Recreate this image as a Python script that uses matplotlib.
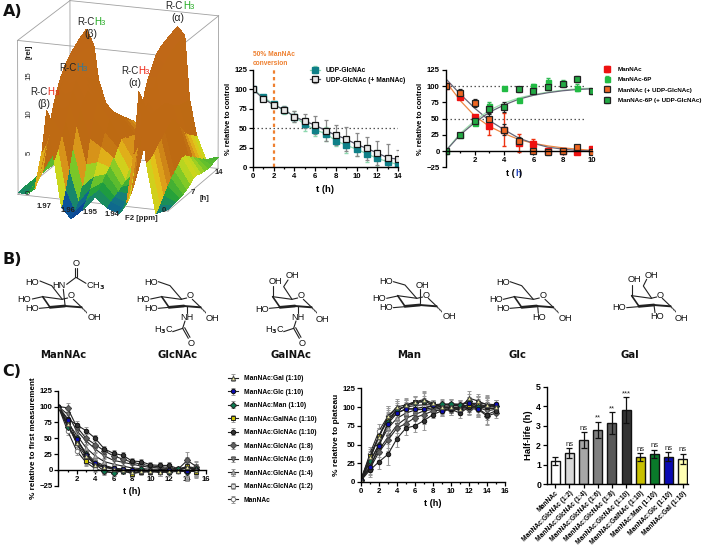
import numpy as np
import matplotlib
matplotlib.use('Agg')
import matplotlib.pyplot as plt
from matplotlib.colors import LinearSegmentedColormap, Normalize

W, H = 709, 548
plt.rcParams['font.family'] = ['Liberation Sans', 'DejaVu Sans']
plt.rcParams['font.weight'] = 'bold'
plt.rcParams['axes.labelweight'] = 'bold'

# --- panel A surface: signal (rel) per time row and ppm column
ppm = [1.982, 1.978, 1.975, 1.972, 1.970, 1.967, 1.964, 1.960, 1.955, 1.950,
       1.945, 1.940, 1.937, 1.934, 1.932, 1.929, 1.925, 1.920]
hours = list(range(15))
signal = [
    [0.2, 0.3, 1.0, 6.0, 11.3, 5.0, -1.0, -2.4, -1.0, 0.8, -0.5, -1.0, 0.5, 7.0, 15.0, 6.0, -0.5, 0.2],
    [0.3, 0.4, 2.0, 6.5, 9.8, 6.0, 0.8, -2.0, -0.2, 1.2, -0.2, -0.8, 2.0, 7.5, 13.5, 6.0, 0.2, 0.3],
    [0.3, 0.6, 3.5, 7.5, 9.0, 7.5, 3.0, -1.2, 0.8, 1.8, 0.1, -0.5, 4.5, 8.5, 12.0, 6.5, 1.0, 0.3],
    [0.3, 1.0, 5.5, 9.0, 9.2, 9.0, 5.5, 0.5, 2.0, 2.5, 0.4, 0.2, 7.5, 10.0, 11.0, 7.0, 1.8, 0.4],
    [0.3, 1.6, 7.8, 10.5, 10.0, 10.5, 8.0, 3.0, 3.5, 3.0, 0.6, 1.2, 10.5, 12.0, 11.0, 7.5, 2.5, 0.5],
    [0.3, 2.1, 9.8, 12.0, 11.5, 12.0, 10.0, 6.0, 5.0, 3.8, 1.0, 2.5, 13.0, 13.5, 11.0, 8.0, 3.0, 0.7],
    [0.3, 2.5, 11.5, 13.0, 12.5, 13.0, 11.0, 8.5, 6.5, 4.8, 2.0, 4.0, 14.5, 14.5, 11.0, 8.5, 3.5, 1.0],
    [0.3, 2.8, 12.8, 14.0, 13.0, 13.2, 11.5, 10.0, 8.0, 5.5, 3.0, 5.5, 15.5, 15.0, 11.0, 9.0, 4.0, 1.5],
    [0.3, 3.0, 13.8, 14.5, 13.0, 12.5, 10.5, 9.5, 8.0, 5.5, 3.5, 7.0, 16.5, 15.5, 10.5, 8.5, 4.0, 1.5],
    [0.2, 3.0, 14.5, 14.8, 12.5, 11.5, 9.5, 9.0, 7.5, 5.0, 3.5, 8.0, 17.0, 16.0, 10.0, 7.5, 3.5, 1.3],
    [0.2, 3.0, 15.0, 15.0, 12.0, 10.5, 8.5, 8.0, 7.0, 4.8, 4.0, 9.5, 17.3, 16.5, 9.5, 6.5, 3.0, 1.2],
    [0.2, 3.0, 15.5, 15.0, 11.5, 9.5, 7.5, 7.2, 6.5, 4.5, 4.5, 10.5, 17.5, 16.7, 9.2, 5.5, 2.5, 1.1],
    [0.2, 3.0, 15.9, 14.8, 11.0, 8.5, 7.0, 6.5, 6.0, 4.0, 5.0, 11.5, 17.7, 16.9, 9.0, 5.0, 2.0, 1.2],
    [0.2, 3.0, 16.2, 14.6, 10.5, 7.8, 6.5, 6.0, 5.5, 3.8, 5.5, 12.2, 17.9, 17.0, 8.9, 4.5, 1.5, 1.4],
    [0.2, 3.0, 16.5, 14.5, 10.0, 7.0, 6.0, 5.5, 5.0, 3.5, 6.0, 13.0, 18.0, 17.0, 8.8, 4.0, 1.0, 1.5],
]

# --- panel A, UDP-GlcNAc
t14 = list(range(15))
udp = [100, 90, 81, 73, 65, 55, 48, 43, 34, 28, 23, 17, 11, 7, 3]
udp_err = [0, 3, 3, 5, 7, 8, 8, 9, 7, 10, 9, 11, 11, 7, 5]
udp_man = [100, 88, 80, 74, 65, 59, 54, 47, 41, 36, 29, 24, 18, 12, 10]
udp_man_err = [0, 2, 2, 5, 7, 9, 12, 13, 13, 15, 15, 15, 16, 17, 12]

# --- panel A, ManNAc / ManNAc-6P
t10 = list(range(11))
mannac = [100, 84, 52, 39, 33, 12, 11, 0, 0, -1, 3]
mannac_err = [0, 3, 4, 14, 25, 14, 7, 4, 3, 3, 3]
m6p = [0, 25, 44, 70, 97, 78, 100, 107, 105, 98, 92]
m6p_err = [0, 3, 4, 6, 2, 3, 3, 6, 4, 5, 3]
mannac_udp = [100, 90, 74, 49, 33, 15, 0, -2, 0, 6, -2]
mannac_udp_err = [0, 5, 6, 8, 8, 6, 2, 4, 3, 4, 3]
m6p_udp = [0, 25, 46, 65, 68, 95, 92, 99, 103, 111, 93]
m6p_udp_err = [0, 3, 4, 7, 8, 4, 3, 5, 4, 4, 3]
mannac_fit = [108, 78, 54, 38, 27, 18, 12, 8, 5, 3, 1]
mannac_udp_fit = [112, 88, 66, 47, 33, 20, 12, 6, 3, 1, 0]
m6p_fit = [0, 27, 47, 63, 74, 82, 87, 91, 94, 96, 97]
m6p_udp_fit = [0, 25, 44, 60, 71, 80, 86, 90, 93, 95, 96]

# --- panel C, kinetics
t15 = list(range(16))
series_names = ['ManNAc', 'ManNAc:GlcNAc (1:2)', 'ManNAc:GlcNAc (1:4)', 'ManNAc:GlcNAc (1:6)',
                'ManNAc:GlcNAc (1:8)', 'ManNAc:GlcNAc (1:10)', 'ManNAc:GalNAc (1:10)',
                'ManNAc:Man (1:10)', 'ManNAc:Glc (1:10)', 'ManNAc:Gal (1:10)']
decay = [
    [100, 62, 30, 12, 2, -3, -4, -2, -5, -4, -2, -3, -4, -2, -3, -2],
    [100, 70, 47, 27, 13, 7, 3, 1, -1, -1, -1, -1, -2, 0, -1, -3],
    [100, 75, 55, 35, 22, 13, 9, 6, 3, 2, 1, 1, 0, 0, 3, -1],
    [100, 88, 62, 46, 33, 22, 15, 12, 9, 6, 4, 3, 2, 1, 5, 3],
    [100, 98, 68, 50, 40, 30, 22, 17, 12, 9, 6, 5, 4, 1, 15, 5],
    [100, 81, 71, 62, 50, 33, 26, 23, 14, 13, 8, 7, 7, 2, 4, 1],
    [100, 72, 42, 14, 8, 5, 2, -1, -6, -3, -3, -4, -3, 0, 6, -4],
    [100, 68, 50, 25, 9, -2, -5, -1, 0, 1, -2, -1, -4, 1, -3, 1],
    [100, 79, 48, 24, 11, 5, 3, 1, 0, -1, -1, -1, 0, -1, -2, 0],
    [100, 73, 42, 22, 8, 4, 1, 0, -4, -2, -1, -3, -1, -1, 5, 0],
]
decay_err = [0, 7, 6, 6, 5, 5, 5, 5, 5, 4, 5, 6, 6, 3, 14, 9]
rise = [
    [3, 38, 68, 88, 97, 100, 102, 103, 103, 103, 104, 104, 105, 105, 104, 103],
    [3, 30, 62, 82, 92, 97, 98, 100, 101, 101, 102, 102, 102, 103, 100, 100],
    [3, 27, 50, 72, 85, 92, 96, 97, 99, 99, 100, 100, 100, 101, 98, 98],
    [3, 22, 43, 60, 76, 85, 90, 95, 97, 98, 99, 98, 100, 100, 95, 97],
    [3, 18, 40, 56, 72, 78, 86, 90, 95, 96, 96, 97, 98, 97, 88, 92],
    [2, 16, 27, 37, 58, 72, 75, 82, 90, 95, 97, 92, 100, 98, 90, 95],
    [4, 35, 62, 85, 95, 102, 107, 107, 104, 100, 99, 99, 103, 105, 100, 103],
    [3, 28, 50, 80, 97, 101, 105, 108, 103, 104, 104, 103, 108, 100, 102, 101],
    [3, 20, 48, 78, 92, 98, 97, 97, 103, 95, 99, 96, 105, 97, 102, 104],
    [3, 33, 60, 88, 100, 103, 107, 110, 105, 100, 100, 98, 112, 108, 103, 100],
]
rise_err = [1, 9, 10, 14, 11, 9, 8, 12, 5, 7, 7, 6, 9, 10, 12, 6]
series_face = ['white', '#d8d8d8', '#b0b0b0', '#808080', '#606060', '#333333',
               '#c8c000', '#0a7a50', '#0a0ab4', '#e8e8a0']
series_edge = ['#777777', '#777777', '#777777', '#555555', '#444444', '#111111',
               '#222222', '#222222', '#111111', '#444444']
series_marker = ['o', 's', '^', 'v', 'D', 'o', 's', 'D', 'o', '^']

# --- panel C, half-life bars
half_life = [1.17, 1.58, 2.25, 2.78, 3.13, 3.8, 1.38, 1.55, 1.4, 1.3]
half_err = [0.2, 0.25, 0.4, 0.4, 0.55, 0.65, 0.2, 0.22, 0.22, 0.25]
half_sig = ['', 'ns', 'ns', '**', '**', '***', 'ns', 'ns', 'ns', 'ns']
half_color = ['white', '#d9d9d9', '#a6a6a6', '#808080', '#595959', '#333333',
              '#c8c000', '#0a7a2a', '#0a0ab4', '#ffffb3']

fig = plt.figure(figsize=(W / 100, H / 100), dpi=100)


def px_axes(x0, x1, ytop, ybot):
    ax = fig.add_axes([x0 / W, 1 - ybot / H, (x1 - x0) / W, (ybot - ytop) / H])
    ax.patch.set_alpha(0)
    for s in ['top', 'right']:
        ax.spines[s].set_visible(False)
    for s in ['left', 'bottom']:
        ax.spines[s].set_linewidth(1.0)
    ax.tick_params(labelsize=5.6, width=0.9, length=2.6, pad=1.5)
    ax.tick_params(which='minor', width=0.9, length=1.6)
    return ax


def legend_at(ax, x, y, size=4.8, spacing=0.9, hlen=1.5, pad=0.9):
    ax.legend(loc='upper left', bbox_to_anchor=(x / W, 1 - y / H), bbox_transform=fig.transFigure,
              frameon=False, fontsize=size, handlelength=hlen, handletextpad=pad,
              labelspacing=spacing, borderpad=0, borderaxespad=0)


# overlay for all free text and the sugar drawings
ov = fig.add_axes([0, 0, 1, 1], zorder=20)
ov.set_xlim(0, W)
ov.set_ylim(H, 0)
ov.axis('off')
ov.patch.set_alpha(0)

for label, yy in [('A)', 11), ('B)', 259), ('C)', 372)]:
    ov.text(2.5, yy, label, fontsize=11.5, family='DejaVu Sans', weight='bold', va='center', color='#111111')

# --- 3D surface
cmap = LinearSegmentedColormap.from_list('nmr', [
    (0.0, '#0a1a90'), (0.07, '#0b5a9a'), (0.12, '#167f7a'), (0.16, '#1f9e3c'),
    (0.21, '#6cc42a'), (0.25, '#c8d81e'), (0.29, '#e5c018'), (0.33, '#d9961a'),
    (0.38, '#bd6a12'), (1.0, '#c06818')])
ax3 = fig.add_axes([-35 / W, 1 - 240 / H, 300 / W, 263 / H], projection='3d')
ax3.set_axis_off()
ax3.patch.set_alpha(0)
X, Y = np.meshgrid(ppm, hours)
Z = np.array(signal)
ax3.plot_surface(X, Y, Z, cmap=cmap, norm=Normalize(-2.5, 18), rstride=1, cstride=1,
                 linewidth=0, antialiased=False, shade=True)
xl, yl, zl = (1.982, 1.92), (0, 14), (0, 20)
for xv in xl:
    for yv in yl:
        ax3.plot([xv, xv], [yv, yv], zl, color='#a0a0a0', lw=0.6)
for zv in zl:
    for yv in yl:
        ax3.plot(xl, [yv, yv], [zv, zv], color='#a0a0a0', lw=0.6)
    for xv in xl:
        ax3.plot([xv, xv], yl, [zv, zv], color='#a0a0a0', lw=0.6)
ax3.set_xlim(1.982, 1.92)
ax3.set_ylim(0, 14)
ax3.set_zlim(0, 20)
ax3.set_box_aspect((1.06, 1.0, 1.07), zoom=1.0)
ax3.view_init(elev=17, azim=-70)
ax3.set_proj_type('persp', focal_length=6)


def rch3(split, y, color, greek=None, gx=0):
    ov.text(split, y, 'R-C', ha='right', va='center', fontsize=7, color='#222222', weight='normal')
    ov.text(split, y, 'H', ha='left', va='center', fontsize=7, color=color, weight='normal')
    ov.text(split + 6.6, y + 1.5, '3', ha='left', va='center', fontsize=5.6, color=color, weight='normal')
    if greek:
        ov.text(gx, y + 12, greek, ha='center', va='center', fontsize=7.5, color='#222222', weight='normal')


rch3(94, 22, '#22aa22', '(β)', 91)
rch3(183, 6, '#22aa22', '(α)', 178)
rch3(76, 68, '#2a7aa0')
rch3(47.7, 92, '#ee2211', '(β)', 44)
rch3(138, 71, '#ee2211', '(α)', 135)
for s, y in [('15', 76), ('10', 114), ('5', 153), ('0', 192)]:
    ov.text(29, y, s, rotation=90, ha='center', va='center', fontsize=5.6, color='#222222', weight='normal')
ov.text(29, 52, '[rel]', rotation=90, ha='center', va='center', fontsize=5.6, color='#222222')
for s, x, y in [('1.97', 44, 207), ('1.96', 68, 210), ('1.95', 90, 212), ('1.94', 112, 214),
                ('F2 [ppm]', 141, 218), ('0', 164, 210), ('7', 193, 193), ('14', 219, 173), ('[h]', 205, 199)]:
    ov.text(x, y, s, ha='center', va='center', fontsize=5.6, color='#222222')

# --- UDP-GlcNAc panel
ax = px_axes(253, 398, 70, 167)
ax.axhline(50, color='#555555', lw=0.9, ls=(0, (1.2, 2)))
ax.axvline(2, color='#ee8030', lw=1.6, ls=(0, (1.5, 1.5)))
ax.errorbar(t14, udp, yerr=udp_err, fmt='s-', color='#8fd8b0', mfc='#0f8088', mec='#0f8088', ms=3.8,
            lw=0.9, elinewidth=0.9, capsize=1.5, label='UDP-GlcNAc')
ax.errorbar(t14, udp_man, yerr=udp_man_err, fmt='s-', color='#555566', ecolor='#888888', mfc='#e8e8e8',
            mec='#111111', ms=4, mew=0.9, lw=0.9, elinewidth=0.9, capsize=1.5, label='UDP-GlcNAc (+ ManNAc)')
ax.set_xlim(0, 14)
ax.set_ylim(0, 125)
ax.set_xticks(range(0, 15, 2))
ax.set_xticks(t14, minor=True)
ax.set_yticks(range(0, 126, 25))
ax.set_xlabel('t (h)', fontsize=6.8, labelpad=4)
ax.set_ylabel('% relative to control', fontsize=5.4, labelpad=1.5)
legend_at(ax, 310, 67, spacing=0.4)
ov.text(253, 59, '50% ManNAc\nconversion', color='#ee8030', fontsize=4.8, va='center', ha='left', linespacing=1.3)

# --- ManNAc panel
ax = px_axes(445.5, 592, 70, 167.3)
ax.axhline(100, color='#555555', lw=0.9, ls=(0, (1.2, 2)), xmax=0.96)
ax.axhline(50, color='#555555', lw=0.9, ls=(0, (1.2, 2)), xmax=0.96)
ax.plot(t10, mannac_fit, color='#ee8844', lw=0.9)
ax.plot(t10, mannac_udp_fit, color='#666677', lw=0.9)
ax.plot(t10, m6p_fit, color='#a0e0b0', lw=0.9)
ax.plot(t10, m6p_udp_fit, color='#666677', lw=0.9)
ax.errorbar(t10, mannac, yerr=mannac_err, fmt='s', color='#ee3311', mfc='#ee1111', mec='#ee1111', ms=4,
            elinewidth=1, capsize=1.5, label='ManNAc')
ax.errorbar(t10, m6p, yerr=m6p_err, fmt='s', color='#33bb55', mfc='#22bb44', mec='#22bb44', ms=3.6,
            elinewidth=0.9, capsize=1.5, label='ManNAc-6P')
ax.errorbar(t10, mannac_udp, yerr=mannac_udp_err, fmt='s', color='#222222', mfc='#ee6622', mec='#222222',
            ms=4.2, mew=0.9, elinewidth=0.9, capsize=1.5, label='ManNAc (+ UDP-GlcNAc)')
ax.errorbar(t10, m6p_udp, yerr=m6p_udp_err, fmt='s', color='#222222', mfc='#22aa44', mec='#222222',
            ms=4.2, mew=0.9, elinewidth=0.9, capsize=1.5, label='ManNAc-6P (+ UDP-GlcNAc)')
ax.set_xlim(0, 10)
ax.set_ylim(-25, 125)
ax.spines['bottom'].set_position(('data', 0))
ax.set_xticks([0, 2, 4, 6, 8, 10])
ax.set_xticklabels(['', '2', '4', '6', '8', '10'])
ax.set_xticks(t10, minor=True)
ax.set_yticks(range(-25, 126, 25))
ax.set_ylabel('% relative to control', fontsize=5.4, labelpad=1.5)
legend_at(ax, 601, 66.5, size=4.5, spacing=0.79, hlen=1.77, pad=0.96)
ov.text(514.5, 173, 't (', ha='right', va='center', fontsize=6.5)
ov.text(515, 173, 'h', ha='left', va='center', fontsize=6.5, color='#2244bb')
ov.text(519.2, 173, ')', ha='left', va='center', fontsize=6.5)

# --- panel C decay
ax = px_axes(58.3, 205.7, 390.7, 485.7)
for i in range(10):
    ax.errorbar(t15, decay[i], yerr=decay_err, fmt='-', marker=series_marker[i], color='#222222',
                ecolor='#999999', mfc=series_face[i], mec=series_edge[i], ms=3.2, mew=0.7, lw=0.8,
                elinewidth=0.8, capsize=1.2, label=series_names[i])
ax.set_xlim(0, 16)
ax.set_ylim(-25, 125)
ax.spines['bottom'].set_position(('data', 0))
ax.set_xticks(range(2, 17, 2))
ax.set_xticks(t15, minor=True)
ax.set_yticks(range(-25, 126, 25))
ax.set_ylabel('% relative to first measurement', fontsize=5.9, labelpad=1.5)
ov.text(132, 491, 't (h)', ha='center', va='center', fontsize=6.5)
handles, labels = ax.get_legend_handles_labels()
ax.legend(handles[::-1], labels[::-1], loc='upper left', bbox_to_anchor=(228 / W, 1 - 375 / H),
          bbox_transform=fig.transFigure, frameon=False, fontsize=4.8, handlelength=1.5, handletextpad=0.9,
          labelspacing=0.98, borderpad=0, borderaxespad=0)

# --- panel C rise
ax = px_axes(361, 505, 388.3, 482)
for i in range(10):
    ax.errorbar(t15, rise[i], yerr=rise_err, fmt='-', marker=series_marker[i], color='#222222',
                ecolor='#999999', mfc=series_face[i], mec=series_edge[i], ms=3.2, mew=0.7, lw=0.8,
                elinewidth=0.8, capsize=1.2)
ax.set_xlim(0, 16)
ax.set_ylim(0, 125)
ax.set_xticks(range(0, 17, 2))
ax.set_xticks(t15, minor=True)
ax.set_yticks(range(0, 126, 25))
ax.set_xlabel('t (h)', fontsize=6.5, labelpad=3)
ax.set_ylabel('% relative to plateau', fontsize=6.0, labelpad=1.5)

# --- half-life bars
ax = px_axes(546.7, 688, 386.7, 484)
xs = list(range(10))
ax.bar(xs, half_life, width=0.64, color=half_color, edgecolor='#111111', lw=1.0,
       yerr=half_err, ecolor='#111111', error_kw=dict(elinewidth=0.9, capsize=2.2, capthick=0.9))
for i in xs:
    ax.text(i, half_life[i] + half_err[i] + 0.02, half_sig[i], ha='center', va='bottom', fontsize=5.6,
            weight='normal', color='#222222')
ax.set_xlim(-0.61, 9.38)
ax.set_ylim(0, 5)
ax.set_xticks(xs)
ax.set_xticklabels(series_names, rotation=45, ha='right', rotation_mode='anchor', fontsize=4.8)
ax.set_yticks(range(6))
ax.set_ylabel('Half-life (h)', fontsize=6.8, labelpad=2)
ax.tick_params(axis='y', labelsize=6.3)

# --- panel B sugars, coordinates in 3x zoomed pixels around the ring
RING = dict(A=(-85, 2), B=(-27, 10), C=(32, 34), D=(-18, 30), E=(-63, 34))


def to_px(x, y):
    return x / 3, 220 + y / 3


def line(pts, lw=0.8, color='#222222'):
    xy = [to_px(*p) for p in pts]
    ov.plot([p[0] for p in xy], [p[1] for p in xy], color=color, lw=lw, solid_capstyle='round')


def sugar(ox, oy, bonds, labels):
    r = {k: (ox + v[0], oy + v[1]) for k, v in RING.items()}
    line([r['A'], r['B'], (ox - 10, oy + 6)])
    line([(ox + 7, oy + 10), r['C']])
    line([r['A'], r['E']], lw=1.2)
    line([r['E'], r['D']], lw=2.0)
    line([r['D'], r['C']], lw=1.4)
    cx, cy = r['C']
    line([(cx + k * 3, cy + k * 3 + (k % 2) * 3 - 1) for k in range(6)], lw=0.6)
    for b in bonds:
        line(b)
    for s, x, y in labels + [('O', ox, oy)]:
        px, py = to_px(x, y)
        ov.text(px, py, s, ha='center', va='center', fontsize=6.6, color='#111111', weight='normal')


def acetamide(dx):
    bonds = [[(560 + dx, 258), (560 + dx, 280)], [(555 + dx, 303), (548 + dx, 325)], [(548 + dx, 325), (518 + dx, 335)],
             [(548 + dx, 325), (565 + dx, 355)], [(554 + dx, 323), (570 + dx, 352)]]
    labels = [('NH', 562 + dx, 292), ('H$_3$C', 490 + dx, 332), ('O', 572 + dx, 370)]
    return bonds, labels


sugar(213, 228, [[(120, 183), (155, 197), (187, 238)], [(97, 237), (128, 230)], [(118, 265), (150, 262)],
                 [(190, 208), (195, 255)], [(200, 193), (228, 172), (258, 190)], [(225, 170), (225, 145)],
                 [(231, 170), (231, 145)]],
      [('HO', 95, 187), ('HO', 73, 238), ('HO', 95, 265), ('HN', 178, 197), ('O', 228, 130),
       ('CH$_3$', 287, 198), ('OH', 283, 293)])
b, l = acetamide(0)
sugar(570, 228, [[(475, 185), (510, 197), (545, 238)], [(452, 237), (485, 230)], [(475, 265), (507, 262)]] + b,
      [('HO', 452, 187), ('HO', 430, 238), ('HO', 452, 265), ('OH', 637, 296)] + l)
b, l = acetamide(333)
sugar(903, 228, [[(808, 265), (840, 262)], [(820, 230), (820, 198)], [(876, 238), (851, 200), (864, 180)]] + b,
      [('HO', 785, 267), ('OH', 827, 183), ('OH', 878, 168), ('OH', 968, 297)] + l)
sugar(1278, 225, [[(1180, 185), (1215, 195), (1250, 235)], [(1160, 235), (1193, 228)], [(1180, 263), (1215, 260)],
                  [(1260, 208), (1260, 250)]],
      [('HO', 1158, 185), ('HO', 1137, 235), ('HO', 1158, 263), ('OH', 1267, 195), ('OH', 1347, 290)])
sugar(1628, 228, [[(1530, 185), (1565, 197), (1600, 238)], [(1510, 238), (1543, 230)], [(1530, 265), (1565, 262)],
                  [(1613, 258), (1615, 280)]],
      [('HO', 1508, 187), ('HO', 1487, 238), ('HO', 1508, 265), ('HO', 1618, 293), ('OH', 1695, 296)])
sugar(1980, 225, [[(1880, 263), (1915, 260)], [(1895, 230), (1895, 195)], [(1955, 235), (1930, 198), (1940, 178)],
                  [(1962, 255), (1965, 278)]],
      [('HO', 1858, 263), ('OH', 1903, 180), ('OH', 1955, 165), ('HO', 1970, 290), ('OH', 2045, 295)])
for s, x in [('ManNAc', 63), ('GlcNAc', 177), ('GalNAc', 291), ('Man', 409), ('Glc', 517), ('Gal', 630)]:
    ov.text(x, 355, s, ha='center', va='center', fontsize=7.3, family='DejaVu Sans', weight='bold', color='#111111')

fig.savefig('out.png', dpi=100)
